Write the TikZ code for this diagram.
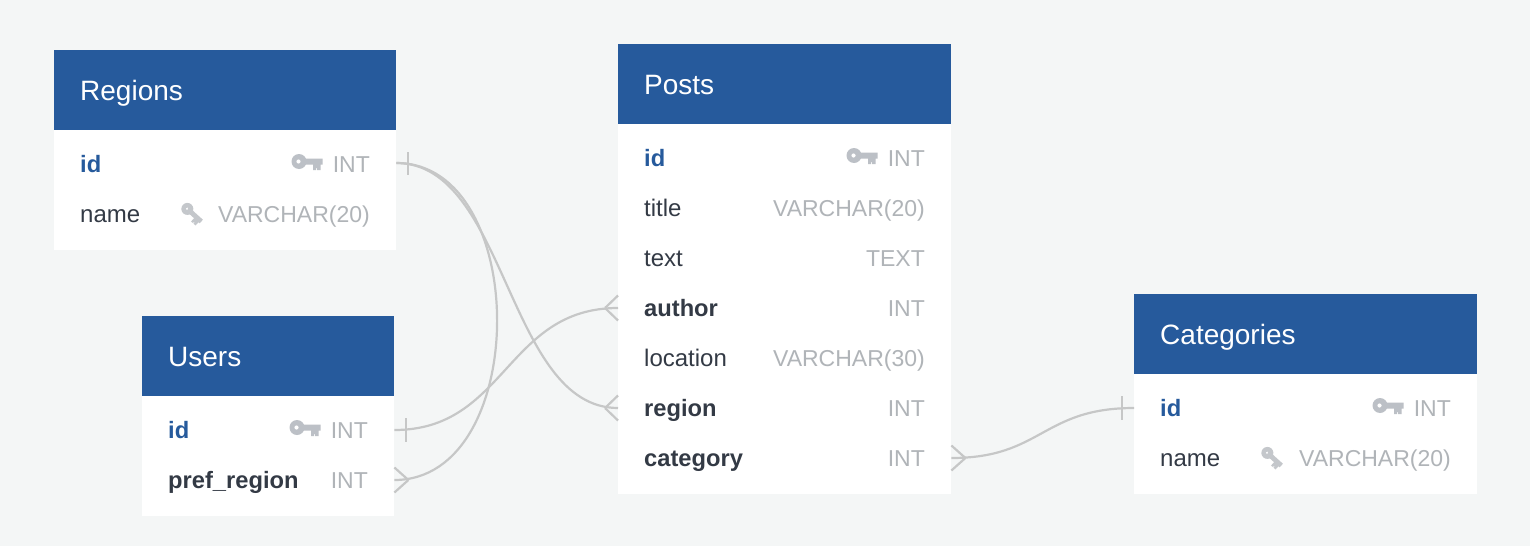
\documentclass[tikz,border=0pt]{standalone}
\usepackage{fontspec}
\setmainfont{Liberation Sans}
\definecolor{bgc}{HTML}{F4F6F6}
\definecolor{headc}{HTML}{265A9C}
\definecolor{inkc}{HTML}{333A45}
\definecolor{typec}{HTML}{B0B4B8}
\definecolor{linec}{HTML}{C6C7C7}
\definecolor{pkc}{HTML}{BCC0C6}
\definecolor{fkc}{HTML}{C4C7CB}
\tikzset{
  tablehead/.style={fill=headc,draw=none,inner sep=0pt,anchor=north west,text=white},
  tablebody/.style={fill=white,draw=none,inner sep=0pt,anchor=north west},
  rowport/.style={draw=none,inner sep=0pt,anchor=west,minimum height=50pt},
  titletext/.style={anchor=base west,inner sep=0pt,text=white,font=\fontsize{28}{30}\selectfont},
  fieldname/.style={anchor=base west,inner sep=0pt,text=inkc,font=\fontsize{24}{28}\selectfont},
  keyfield/.style={fieldname,font=\fontsize{23.7}{28}\selectfont\bfseries},
  idfield/.style={keyfield,text=headc},
  fieldtype/.style={anchor=base east,inner sep=0pt,text=typec,font=\fontsize{23}{28}\selectfont},
  rel/.style={draw=linec,line width=2.2pt},
  relmark/.style={draw=linec,line width=2.2pt},
  pkicon/.pic={
    \fill[pkc,even odd rule] (6,-0.5) circle (7.5) (5.5,-0.5) circle (2.2);
    \fill[pkc] (11,-3.5) -- (29.5,-3.5) -- (29.5,2.5) -- (27.5,2.5) -- (27.5,8) -- (24,8) -- (24,6) -- (23,6) -- (23,8) -- (20,8) -- (20,2.5) -- (11,2.5) -- cycle;
  },
  fkicon/.pic={
    \begin{scope}[rotate=-42,scale=0.8]
    \fill[fkc,even odd rule] (6,-0.5) circle (7.5) (5.5,-0.5) circle (1.6);
    \fill[fkc] (11,-3.5) -- (29.5,-3.5) -- (29.5,2.5) -- (27.5,2.5) -- (27.5,8) -- (24,8) -- (24,6) -- (23,6) -- (23,8) -- (20,8) -- (20,2.5) -- (11,2.5) -- cycle;
    \end{scope}
  },
}
\begin{document}
\begin{tikzpicture}[x=1pt,y=-1pt]
\useasboundingbox (0,0) rectangle (1530,546);
\fill[bgc] (0,0) rectangle (1530,546);

% Regions
\node[tablebody,minimum width=342pt,minimum height=120pt] (regionsBody) at (54,130) {};
\node[tablehead,minimum width=342pt,minimum height=80pt] (regionsHead) at (54,50) {};
\node[titletext] (regionsTitle) at (80,100) {Regions};
\node[rowport,minimum width=342pt] (regionsId) at (54,163) {};
\node[rowport,minimum width=342pt] (regionsName) at (54,213) {};
\node[idfield] (regionsIdF) at (80,172) {id};
\node[fieldtype] (regionsIdT) at (370,172) {INT};
\node[fieldname] (regionsNameF) at (80,222) {name};
\node[fieldtype] (regionsNameT) at (370,222) {VARCHAR(20)};
\pic at (293,162) {pkicon};
\pic at (183.5,206) {fkicon};

% Users
\node[tablebody,minimum width=252pt,minimum height=120pt] (usersBody) at (142,396) {};
\node[tablehead,minimum width=252pt,minimum height=80pt] (usersHead) at (142,316) {};
\node[titletext] (usersTitle) at (168,366) {Users};
\node[rowport,minimum width=252pt] (usersId) at (142,430) {};
\node[rowport,minimum width=252pt] (usersPref) at (142,480) {};
\node[idfield] (usersIdF) at (168,438) {id};
\node[fieldtype] (usersIdT) at (368,438) {INT};
\node[keyfield] (usersPrefF) at (168,488) {pref\_region};
\node[fieldtype] (usersPrefT) at (368,488) {INT};
\pic at (291,428) {pkicon};

% Posts
\node[tablebody,minimum width=333pt,minimum height=370pt] (postsBody) at (618,124) {};
\node[tablehead,minimum width=333pt,minimum height=80pt] (postsHead) at (618,44) {};
\node[titletext] (postsTitle) at (644,94) {Posts};
\node[rowport,minimum width=333pt] (postsAuthor) at (618,308) {};
\node[rowport,minimum width=333pt] (postsRegion) at (618,408) {};
\node[rowport,minimum width=333pt] (postsCategory) at (618,458) {};
\node[idfield] (postsIdF) at (644,166) {id};
\node[fieldtype] (postsIdT) at (925,166) {INT};
\node[fieldname] (postsTitleF) at (644,216) {title};
\node[fieldtype] (postsTitleT) at (925,216) {VARCHAR(20)};
\node[fieldname] (postsTextF) at (644,266) {text};
\node[fieldtype] (postsTextT) at (925,266) {TEXT};
\node[keyfield] (postsAuthorF) at (644,316) {author};
\node[fieldtype] (postsAuthorT) at (925,316) {INT};
\node[fieldname] (postsLocF) at (644,366) {location};
\node[fieldtype] (postsLocT) at (925,366) {VARCHAR(30)};
\node[keyfield] (postsRegionF) at (644,416) {region};
\node[fieldtype] (postsRegionT) at (925,416) {INT};
\node[keyfield] (postsCategoryF) at (644,466) {category};
\node[fieldtype] (postsCategoryT) at (925,466) {INT};
\pic at (848,156) {pkicon};

% Categories
\node[tablebody,minimum width=343pt,minimum height=120pt] (catsBody) at (1134,374) {};
\node[tablehead,minimum width=343pt,minimum height=80pt] (catsHead) at (1134,294) {};
\node[titletext] (catsTitle) at (1160,344) {Categories};
\node[rowport,minimum width=343pt] (catsId) at (1134,408) {};
\node[rowport,minimum width=343pt] (catsName) at (1134,458) {};
\node[idfield] (catsIdF) at (1160,416) {id};
\node[fieldtype] (catsIdT) at (1451,416) {INT};
\node[fieldname] (catsNameF) at (1160,466) {name};
\node[fieldtype] (catsNameT) at (1451,466) {VARCHAR(20)};
\pic at (1374,406) {pkicon};
\pic at (1263.5,450) {fkicon};

% Connectors
\draw[rel] (regionsId.east) .. controls (507,163) and (507,408) .. (postsRegion.west);
\draw[rel] (regionsId.east) .. controls (531,163) and (531,480) .. (usersPref.east);
\draw[rel] (usersId.east) .. controls (506,430) and (506,308) .. (postsAuthor.west);
\draw[rel] (postsCategory.east) .. controls (1042,458) and (1042,408) .. (catsId.west);

% One marks
\draw[relmark] (408,152) -- (408,175);
\draw[relmark] (406,418) -- (406,442);
\draw[relmark] (1122,396) -- (1122,420);

% Many marks
\draw[relmark] (postsAuthor.west) ++(-13,0) -- ++(13,-12.5) ++(-13,12.5) -- ++(13,12.5);
\draw[relmark] (postsRegion.west) ++(-13,0) -- ++(13,-12.5) ++(-13,12.5) -- ++(13,12.5);
\draw[relmark] (usersPref.east) ++(14,0) -- ++(-14,-12.5) ++(14,12.5) -- ++(-14,12.5);
\draw[relmark] (postsCategory.east) ++(14,0) -- ++(-14,-12.5) ++(14,12.5) -- ++(-14,12.5);
\end{tikzpicture}
\end{document}
